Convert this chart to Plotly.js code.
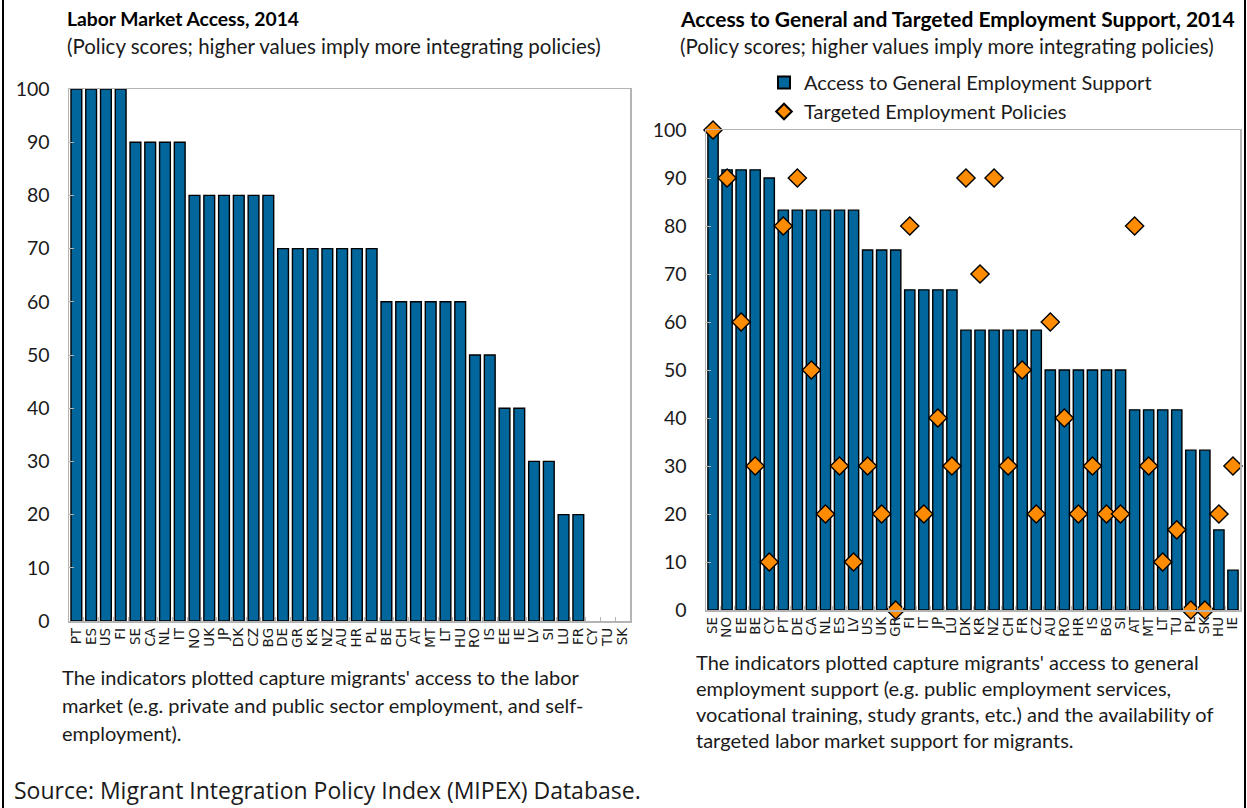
<!DOCTYPE html>
<html>
<head>
<meta charset="utf-8">
<script src="https://cdn.plot.ly/plotly-3.0.1.min.js"></script>
<style>html,body{margin:0;padding:0;background:#fff;}#chart{width:1247px;height:808px;}</style>
</head>
<body>
<div id="chart"></div>
<script>
// Left panel: Labor Market Access, 2014
const laborCountries = ["PT","ES","US","FI","SE","CA","NL","IT","NO","UK","JP","DK","CZ","BG","DE","GR","KR","NZ","AU","HR","PL","BE","CH","AT","MT","LT","HU","RO","IS","EE","IE","LV","SI","LU","FR","CY","TU","SK"];
const laborScores = [100,100,100,100,90,90,90,90,80,80,80,80,80,80,70,70,70,70,70,70,70,60,60,60,60,60,60,50,50,40,40,30,30,20,20,0,0,0];

// Right panel: Access to General and Targeted Employment Support, 2014
const supportCountries = ["SE","NO","EE","BE","CY","PT","DE","CA","NL","ES","LV","US","UK","GR","FI","IT","JP","LU","DK","KR","NZ","CH","FR","CZ","AU","RO","HR","IS","BG","SI","AT","MT","LT","TU","PL","SK","HU","IE"];
const generalSupport = [100,91.7,91.7,91.7,90,83.3,83.3,83.3,83.3,83.3,83.3,75,75,75,66.7,66.7,66.7,66.7,58.3,58.3,58.3,58.3,58.3,58.3,50,50,50,50,50,50,41.7,41.7,41.7,41.7,33.3,33.3,16.7,8.3];
const targetedPolicies = [100,90,60,30,10,80,90,50,20,30,10,30,20,0,80,20,40,30,90,70,90,30,50,20,60,40,20,30,20,20,80,30,10,16.7,0,0,20,30];

const yTicks = [0,10,20,30,40,50,60,70,80,90,100];

const W = 1247, H = 808;
const px = v => v / W;
const py = v => 1 - v / H;

const barColor = "#00669c";
const txt = "#1a1a1a";
const bodyFont = "Lato, 'Open Sans', sans-serif";
const tickFont = "'DejaVu Sans', Verdana, sans-serif";
const outline = vals => vals.map(v => (v > 0 ? 1.4 : 0));

const traces = [
  {
    type: "bar", x: laborCountries, y: laborScores, xaxis: "x", yaxis: "y",
    marker: {color: barColor, line: {color: "#000", width: outline(laborScores)}},
    showlegend: false, hoverinfo: "x+y"
  },
  {
    type: "bar", x: supportCountries, y: generalSupport, xaxis: "x2", yaxis: "y2",
    name: "Access to General Employment Support",
    marker: {color: barColor, line: {color: "#000", width: 1.4}},
    showlegend: true
  },
  {
    type: "scatter", mode: "markers", x: supportCountries, y: targetedPolicies, xaxis: "x2", yaxis: "y2",
    name: "Targeted Employment Policies",
    marker: {symbol: "diamond", color: "#ff8c00", size: 14, line: {color: "#000", width: 1.4}},
    cliponaxis: false,
    showlegend: true
  }
];

const xBase = {
  type: "category", range: [-0.5, 37.5], showline: true, mirror: true, linecolor: "#b4b4b4", linewidth: 1.5,
  ticks: "inside", tickson: "boundaries", ticklen: 4, tickcolor: "#b4b4b4", tickangle: -90,
  tickfont: {family: tickFont, size: 13.5, color: txt}, showgrid: false, zeroline: false, fixedrange: true
};
const yBase = {
  range: [0, 100], tickvals: yTicks, showline: true, mirror: true, linecolor: "#b4b4b4", linewidth: 1.5,
  ticks: "inside", ticklen: 5, tickcolor: "#b4b4b4", ticklabelstandoff: 14,
  tickfont: {family: bodyFont, size: 19.5, color: txt}, showgrid: false, zeroline: false, fixedrange: true
};

function note(text, x, y, opts) {
  return Object.assign({
    text: text, xref: "paper", yref: "paper", x: px(x), y: py(y), xanchor: "left", yanchor: "middle",
    showarrow: false, align: "left", font: {family: bodyFont, size: 20, color: txt}
  }, opts || {});
}

const annotations = [
  note("<b>Labor Market Access, 2014</b>", 65, 18, {font: {family: bodyFont, size: 19.3, color: "#000"}}),
  note("(Policy scores; higher values imply more integrating policies)", 65, 46, {font: {family: bodyFont, size: 20.5, color: txt}}),
  note("<b>Access to General and Targeted Employment Support, 2014</b>", 678, 18, {font: {family: bodyFont, size: 21, color: "#000"}}),
  note("(Policy scores; higher values imply more integrating policies)", 678, 46, {font: {family: bodyFont, size: 20.5, color: txt}}),
  note("The indicators plotted capture migrants' access to the labor", 60, 677),
  note("market (e.g. private and public sector employment, and self-", 60, 705),
  note("employment).", 60, 733),
  note("The indicators plotted capture migrants' access to general", 694, 662),
  note("employment support (e.g. public employment services,", 694, 688),
  note("vocational training, study grants, etc.) and the availability of", 694, 714),
  note("targeted labor market support for migrants.", 694, 740),
  note("Source: Migrant Integration Policy Index (MIPEX) Database.", 12, 790, {font: {family: "'Open Sans', sans-serif", size: 23, color: txt}})
];

const layout = {
  width: W, height: H,
  margin: {l: 0, r: 0, t: 0, b: 0},
  paper_bgcolor: "#fff", plot_bgcolor: "#fff",
  bargap: 0.27,
  xaxis: Object.assign({}, xBase, {domain: [px(69), px(630)], anchor: "y", tickmode: "array", tickvals: laborCountries, ticktext: laborCountries}),
  yaxis: Object.assign({}, yBase, {domain: [py(621), py(89)], anchor: "x"}),
  xaxis2: Object.assign({}, xBase, {domain: [px(706), px(1240)], anchor: "y2", tickmode: "array", tickvals: supportCountries, ticktext: supportCountries}),
  yaxis2: Object.assign({}, yBase, {domain: [py(610), py(130)], anchor: "x2"}),
  showlegend: true,
  legend: {
    x: px(764), y: py(63), xanchor: "left", yanchor: "top",
    font: {family: bodyFont, size: 20, color: txt}, bgcolor: "rgba(0,0,0,0)",
    itemwidth: 30, itemsizing: "constant", tracegroupgap: 0, traceorder: "normal"
  },
  annotations: annotations,
  shapes: [
    {type: "line", xref: "paper", yref: "paper", x0: px(3), x1: px(3), y0: 0, y1: 1, line: {color: "#000", width: 2}},
    {type: "line", xref: "paper", yref: "paper", x0: px(1245), x1: px(1245), y0: 0, y1: 1, line: {color: "#000", width: 2}}
  ],
  font: {family: bodyFont, color: txt}
};

Plotly.newPlot("chart", traces, layout, {displayModeBar: false, staticPlot: true});
</script>
</body>
</html>
